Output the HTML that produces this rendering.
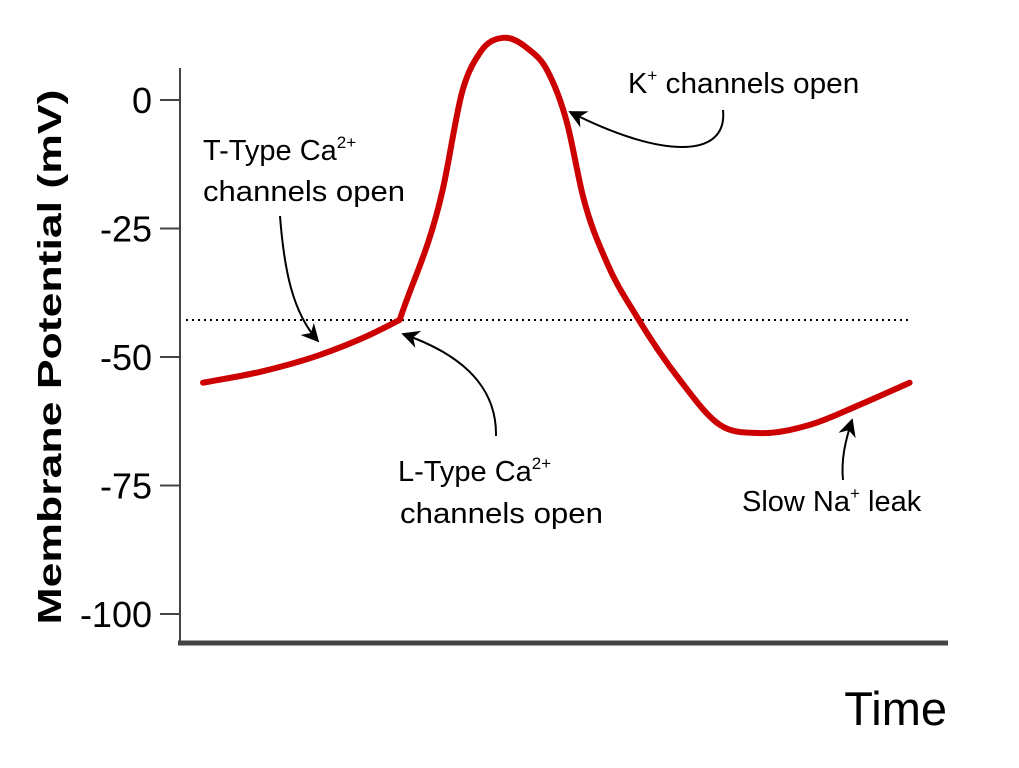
<!DOCTYPE html>
<html><head><meta charset="utf-8">
<style>
html,body{margin:0;padding:0;background:#fff;}
svg{display:block;font-family:"Liberation Sans",Arial,sans-serif;}
</style></head>
<body>
<svg id="chart" width="1019" height="768" viewBox="0 0 1019 768" xmlns="http://www.w3.org/2000/svg">
  <defs>
    <marker id="ah" viewBox="0 0 10 10" refX="9" refY="5" markerWidth="9" markerHeight="9" orient="auto-start-reverse">
      <path d="M0,0 L10,5 L0,10 L3,5 Z" fill="#000"/>
    </marker>
  </defs>
  <g id="axes"></g>
  <g id="series"></g>
  <g id="annotations">
    <text x="203" y="160" font-size="29">T-Type Ca<tspan font-size="17" dy="-12">2+</tspan></text>
    <text x="203" y="201" font-size="29" textLength="202" lengthAdjust="spacingAndGlyphs">channels open</text>
    <path d="M280,216 C284,268 292,312 318,341" fill="none" stroke="#000" stroke-width="2" marker-end="url(#ah)"/>
    <text x="628" y="93" font-size="29">K<tspan font-size="17" dy="-12">+</tspan><tspan dy="12" textLength="202" lengthAdjust="spacingAndGlyphs"> channels open</tspan></text>
    <path d="M723,110 C728,160 660,158 570,112" fill="none" stroke="#000" stroke-width="2" marker-end="url(#ah)"/>
    <text x="398" y="481" font-size="29">L-Type Ca<tspan font-size="17" dy="-12">2+</tspan></text>
    <text x="400" y="523" font-size="29" textLength="203" lengthAdjust="spacingAndGlyphs">channels open</text>
    <path d="M496,436 C497,382 455,352 403,334" fill="none" stroke="#000" stroke-width="2" marker-end="url(#ah)"/>
    <text x="742" y="511" font-size="29">Slow Na<tspan font-size="17" dy="-12">+</tspan><tspan dy="12"> leak</tspan></text>
    <path d="M843,480 C841,460 845,442 852,420" fill="none" stroke="#000" stroke-width="2" marker-end="url(#ah)"/>
  </g>
</svg>
<script>
const yTicks = [0, -25, -50, -75, -100];
const times = [3, 10.4, 18.2, 24.7, 28.6, 34.2, 36.8, 39.1, 42.1, 45.2, 47.8, 50.4, 52.5, 55.6, 59.5, 65.1, 70.3, 75.5, 82, 88.5, 95];
const potentials = [-55, -52.9, -49.6, -45.7, -42.8, -17.5, 1.9, 9.3, 12.1, 10.1, 5.8, -4.5, -18.9, -31.7, -42.2, -54.5, -63.2, -64.8, -63.2, -59.3, -55];
const threshold = [-42.8];
const cornerIndex = 4;

const NS = "http://www.w3.org/2000/svg";
const X = t => 180 + t * 7.68;
const Y = v => 100 - v * (128.5 / 25);
function mk(tag, attrs, parent) {
  const e = document.createElementNS(NS, tag);
  for (const k in attrs) e.setAttribute(k, attrs[k]);
  parent.appendChild(e); return e;
}
const axes = document.getElementById('axes');
const series = document.getElementById('series');

let e = mk('line', {x1:180, y1:68, x2:180, y2:645, stroke:'#444', 'stroke-width':2}, axes);


e = mk('line', {x1:178, y1:643, x2:948, y2:643, stroke:'#444', 'stroke-width':5}, axes);



yTicks.forEach(v => {
  const t = mk('line', {x1:160, y1:Y(v), x2:180, y2:Y(v), stroke:'#444', 'stroke-width':2}, axes);
  
  
  const l = mk('text', {x:152, y:Y(v)+13, 'font-size':36, 'text-anchor':'end'}, axes);
  l.textContent = String(v);
  
  
});

e = mk('text', {x:0, y:0, 'font-size':33, 'font-weight':'bold', 'text-anchor':'middle', textLength:535, lengthAdjust:'spacingAndGlyphs', transform:'translate(61,357) rotate(-90)'}, axes);
e.textContent = 'Membrane Potential (mV)';


e = mk('text', {x:947, y:725, 'font-size':47, 'text-anchor':'end'}, axes);
e.textContent = 'Time';



e = mk('line', {x1:186, y1:Y(threshold[0]), x2:910, y2:Y(threshold[0]), stroke:'#000', 'stroke-width':2, 'stroke-dasharray':'2,4'}, series);



// smooth cubic with slope-based tangents (x-parameterized), corner at cornerIndex
const pts = times.map((t, i) => [X(t), Y(potentials[i])]);
const n = pts.length;
const sec = [];
for (let i = 0; i < n - 1; i++) sec.push((pts[i+1][1] - pts[i][1]) / (pts[i+1][0] - pts[i][0]));
const tanL = [], tanR = [];
for (let i = 0; i < n; i++) {
  let m;
  if (i === 0) m = sec[0];
  else if (i === n - 1) m = sec[n-2];
  else {
    const h0 = pts[i][0] - pts[i-1][0], h1 = pts[i+1][0] - pts[i][0];
    m = (sec[i-1] * h1 + sec[i] * h0) / (h0 + h1);
  }
  tanL.push(m); tanR.push(m);
}
tanL[cornerIndex] = sec[cornerIndex-1];
tanR[cornerIndex] = sec[cornerIndex];
let d = 'M' + pts[0][0] + ',' + pts[0][1];
for (let i = 0; i < n - 1; i++) {
  const p1 = pts[i], p2 = pts[i+1], h = (p2[0] - p1[0]) / 3;
  d += ' C' + (p1[0]+h) + ',' + (p1[1] + tanR[i]*h) + ' ' + (p2[0]-h) + ',' + (p2[1] - tanL[i+1]*h) + ' ' + p2[0] + ',' + p2[1];
}
e = mk('path', {d:d, fill:'none', stroke:'#cc0000', 'stroke-width':6, 'stroke-linejoin':'round', 'stroke-linecap':'round'}, series);


</script>
</body></html>
